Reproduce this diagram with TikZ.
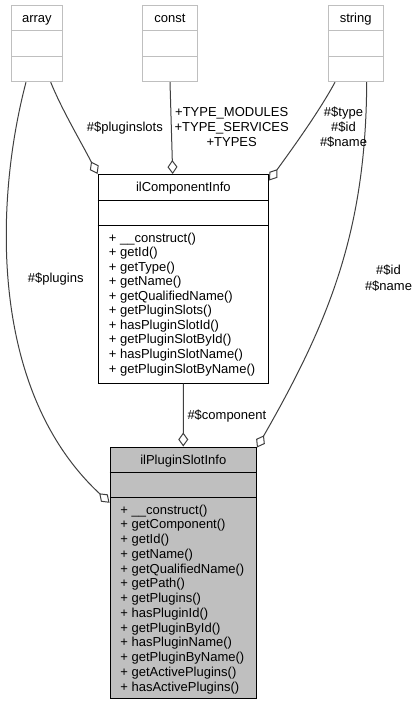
\documentclass[tikz,border=0pt]{standalone}
\usepackage{fontspec}
\setmainfont{Liberation Sans}
\usetikzlibrary{arrows.meta}
\definecolor{boxgray}{HTML}{BFBFBF}
\definecolor{edgegray}{HTML}{404040}
\begin{document}
\begin{tikzpicture}[x=1pt,y=-1pt,
  txt/.style={inner sep=0pt, font=\fontsize{13}{14.6}\selectfont},
  extbox/.style={draw=boxgray, line width=1pt, fill=white, inner sep=0pt},
  clsbox/.style={draw=black, line width=1pt, inner sep=0pt},
  agg/.style={draw=edgegray, line width=1pt, -{Diamond[open,length=14pt,width=10pt]}},
]
\useasboundingbox (0,0) rectangle (417,705);
\fill[white] (0,0) rectangle (417,705);

% external boxes
\node[extbox, minimum width=50.3pt, minimum height=76pt] (array) at (36.85,43.7) {};
\node[extbox, minimum width=54.6pt, minimum height=76pt] (const) at (170,43.7) {};
\node[extbox, minimum width=54.7pt, minimum height=76pt] (string) at (355.65,43.7) {};
\foreach \n in {array,const,string}{
  \draw[boxgray, line width=1pt] ([yshift=-25.6pt]\n.north west) -- ([yshift=-25.6pt]\n.north east);
  \draw[boxgray, line width=1pt] ([yshift=-51pt]\n.north west) -- ([yshift=-51pt]\n.north east);
}
\node[txt, anchor=base] (arrayt) at (36.85,22.3) {array};
\node[txt, anchor=base] (constt) at (170,22.3) {const};
\node[txt, anchor=base] (stringt) at (355.65,22.3) {string};

% ilComponentInfo
\node[clsbox, fill=white, minimum width=170.7pt, minimum height=208.5pt] (comp) at (183.35,278.75) {};
\draw[black, line width=1pt] ([yshift=-26.2pt]comp.north west) -- ([yshift=-26.2pt]comp.north east);
\draw[black, line width=1pt] ([yshift=-51.2pt]comp.north west) -- ([yshift=-51.2pt]comp.north east);
\node[txt, anchor=base] (compt) at (183.35,191.8) {ilComponentInfo};
\foreach \m [count=\i from 0] in {{+ \_\_construct()},{+ getId()},{+ getType()},{+ getName()},{+ getQualifiedName()},{+ getPluginSlots()},{+ hasPluginSlotId()},{+ getPluginSlotById()},{+ hasPluginSlotName()},{+ getPluginSlotByName()}}{
  \node[txt, anchor=base west] (cm\i) at (108.7,242+14.56*\i) {\m};
}

% ilPluginSlotInfo
\node[clsbox, fill=boxgray, minimum width=146.5pt, minimum height=251pt] (slot) at (183.25,572.5) {};
\draw[black, line width=1pt] ([yshift=-25.5pt]slot.north west) -- ([yshift=-25.5pt]slot.north east);
\draw[black, line width=1pt] ([yshift=-51pt]slot.north west) -- ([yshift=-51pt]slot.north east);
\node[txt, anchor=base] (slott) at (183.25,464) {ilPluginSlotInfo};
\foreach \m [count=\i from 0] in {{+ \_\_construct()},{+ getComponent()},{+ getId()},{+ getName()},{+ getQualifiedName()},{+ getPath()},{+ getPlugins()},{+ hasPluginId()},{+ getPluginById()},{+ hasPluginName()},{+ getPluginByName()},{+ getActivePlugins()},{+ hasActivePlugins()}}{
  \node[txt, anchor=base west] (sm\i) at (120.2,514+14.75*\i) {\m};
}

% connectors
\draw[agg] ([xshift=13.85pt]array.south) .. controls (62,110) and (80,140) .. (comp.north west);
\draw[agg] (const.south) -- ([xshift=-10.65pt]comp.north);
\draw[agg] ([xshift=-20.65pt]string.south) .. controls (320,110) and (295,145) .. ([yshift=-6.5pt]comp.north east);
\draw[agg] ([xshift=-10.85pt]array.south) .. controls (-5,200) and (-12,390) .. ([yshift=-56.3pt]slot.north west);
\draw[agg] ([xshift=11.05pt]string.south) .. controls (366,230) and (330,320) .. ([yshift=-1pt]slot.north east);
\draw[agg] (comp.south) -- (slot.north);

% labels
\node[txt, anchor=base east] (l1) at (163,131.7) {\#\$pluginslots};
\node[txt, anchor=base] (l2a) at (231.7,116.7) {+TYPE\_MODULES};
\node[txt, anchor=base] (l2b) at (231.7,131.3) {+TYPE\_SERVICES};
\node[txt, anchor=base] (l2c) at (231.7,146.7) {+TYPES};
\node[txt, anchor=base] (l3a) at (343.5,116.7) {\#\$type};
\node[txt, anchor=base] (l3b) at (343.5,131.5) {\#\$id};
\node[txt, anchor=base] (l3c) at (343.5,146.5) {\#\$name};
\node[txt, anchor=base] (l4) at (55.7,282.3) {\#\$plugins};
\node[txt, anchor=base] (l5a) at (388.5,274.7) {\#\$id};
\node[txt, anchor=base] (l5b) at (388.5,290) {\#\$name};
\node[txt, anchor=base west] (l6) at (187.3,419) {\#\$component};
\end{tikzpicture}
\end{document}
